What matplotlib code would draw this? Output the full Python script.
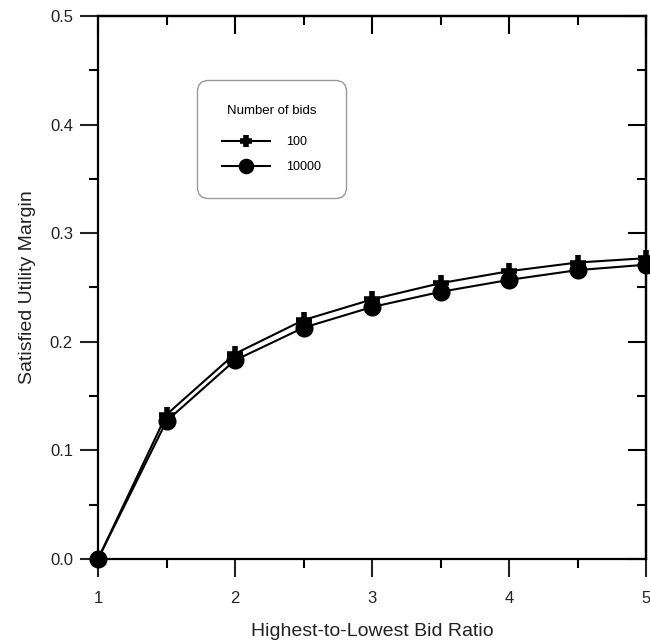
import matplotlib
matplotlib.use('Agg')
import matplotlib.pyplot as plt
from matplotlib.ticker import MultipleLocator

plt.rcParams['font.family'] = ['Liberation Sans', 'DejaVu Sans']

ratio = [1, 1.5, 2, 2.5, 3, 3.5, 4, 4.5, 5]
bids_100 = [0.0, 0.133, 0.189, 0.220, 0.239, 0.254, 0.265, 0.273, 0.277]
bids_10000 = [0.0, 0.127, 0.183, 0.213, 0.232, 0.246, 0.257, 0.266, 0.271]
series_labels = ['100', '10000']

fig = plt.figure(figsize=(6.5, 6.41), dpi=100)
ax = fig.add_axes([98 / 650, 1 - 559 / 641, 548 / 650, 543 / 641])

ax.plot(ratio, bids_100, color='black', lw=1.5, marker='+', ms=11, mew=4,
        label=series_labels[0], zorder=3, clip_on=False)
ax.plot(ratio, bids_10000, color='black', lw=1.5, marker='o', ms=12,
        label=series_labels[1], zorder=4, clip_on=False)

ax.set_xlim(1, 5)
ax.set_ylim(0, 0.5)
ax.xaxis.set_major_locator(MultipleLocator(1))
ax.xaxis.set_minor_locator(MultipleLocator(0.5))
ax.yaxis.set_major_locator(MultipleLocator(0.1))
ax.yaxis.set_minor_locator(MultipleLocator(0.05))
ax.yaxis.set_major_formatter(plt.FuncFormatter(lambda v, p: f'{v:.1f}'))

for s in ax.spines.values():
    s.set_linewidth(1.6)
ax.tick_params(which='major', direction='out', length=13, width=1.5,
               labelsize=12, colors='#222222')
ax.tick_params(which='minor', direction='out', length=6.5, width=1.5)
ax.tick_params(axis='x', which='major', pad=10)
ax.tick_params(axis='y', which='major', pad=5)

top = ax.secondary_xaxis('top')
top.xaxis.set_major_locator(MultipleLocator(1))
top.xaxis.set_minor_locator(MultipleLocator(0.5))
top.tick_params(which='major', direction='in', length=13, width=1.5, labeltop=False)
top.tick_params(which='minor', direction='in', length=6.5, width=1.5)
top.spines['top'].set_linewidth(1.6)

right = ax.secondary_yaxis('right')
right.yaxis.set_major_locator(MultipleLocator(0.1))
right.yaxis.set_minor_locator(MultipleLocator(0.05))
right.tick_params(which='major', direction='in', length=13, width=1.5, labelright=False)
right.tick_params(which='minor', direction='in', length=6.5, width=1.5)
right.spines['right'].set_linewidth(1.6)

ax.set_xlabel('Highest-to-Lowest Bid Ratio', fontsize=14, color='#222222', labelpad=12)
ax.set_ylabel('Satisfied Utility Margin', fontsize=14, color='#222222', labelpad=10)

leg = ax.legend(title='Number of bids', loc='upper left',
                bbox_to_anchor=((197 - 98) / 548, (559 - 80) / 543),
                fontsize=9, title_fontsize=9.5, frameon=True, fancybox=True,
                edgecolor='#808080', borderpad=2.0, labelspacing=1.0,
                handlelength=3.8, handletextpad=1.3, borderaxespad=0,
                markerscale=0.85)
leg.get_frame().set_linewidth(1.0)
leg.get_frame().set_boxstyle('round', pad=0, rounding_size=0.9)
leg._legend_box.sep = 14

fig.savefig('out.png', dpi=100)
